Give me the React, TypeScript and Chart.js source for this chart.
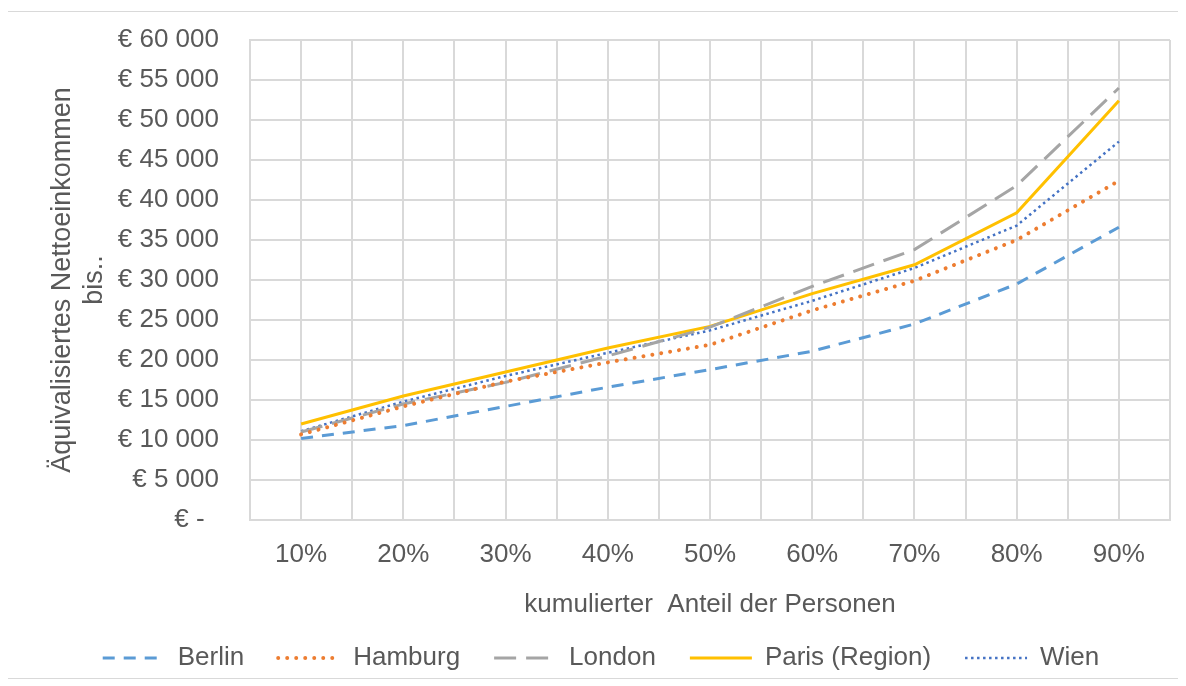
import React, { useEffect, useRef } from "react";
import { Chart, registerables } from "chart.js";

Chart.register(...registerables);

// Cumulative share of persons (deciles)
const shares = ["10%", "20%", "30%", "40%", "50%", "60%", "70%", "80%", "90%"];

// Equivalised net income (EUR) up to each decile
const berlin = [10200, 11800, 14200, 16600, 18800, 21100, 24500, 29500, 36600];
const hamburg = [10700, 14200, 17300, 19700, 21900, 26200, 29900, 35000, 42400];
const london = [11000, 14500, 17200, 20500, 24100, 29200, 33800, 41800, 54000];
const paris = [12000, 15500, 18500, 21500, 24200, 28300, 31900, 38400, 52400];
const wien = [11100, 14800, 18000, 20900, 23700, 27400, 31500, 36800, 47300];

const yTicks = [0, 5000, 10000, 15000, 20000, 25000, 30000, 35000, 40000, 45000, 50000, 55000, 60000];

const TEXT = "#595959";
const GRID = "#d9d9d9";
const FONT = "'Liberation Sans', Arial, sans-serif";

const toPoints = (values: number[]) => values.map((y, i) => ({ x: i + 1, y }));

const euro = (v: number) => {
  if (v === 0) return "€ -  ";
  const thousands = Math.floor(v / 1000);
  return `€ ${thousands} 000`;
};

export default function App() {
  const canvasRef = useRef<HTMLCanvasElement | null>(null);

  useEffect(() => {
    const canvas = canvasRef.current;
    if (!canvas) return;

    const chart = new Chart(canvas, {
      type: "line",
      data: {
        datasets: [
          {
            label: "Berlin",
            data: toPoints(berlin),
            borderColor: "#5B9BD5",
            backgroundColor: "#5B9BD5",
            borderWidth: 3,
            borderDash: [12, 9],
          },
          {
            label: "Hamburg",
            data: toPoints(hamburg),
            borderColor: "#ED7D31",
            backgroundColor: "#ED7D31",
            borderWidth: 4,
            borderDash: [0.01, 9],
            borderCapStyle: "round",
          },
          {
            label: "London",
            data: toPoints(london),
            borderColor: "#A5A5A5",
            backgroundColor: "#A5A5A5",
            borderWidth: 3,
            borderDash: [22, 10],
          },
          {
            label: "Paris (Region)",
            data: toPoints(paris),
            borderColor: "#FFC000",
            backgroundColor: "#FFC000",
            borderWidth: 3,
          },
          {
            label: "Wien",
            data: toPoints(wien),
            borderColor: "#4472C4",
            backgroundColor: "#4472C4",
            borderWidth: 2.5,
            borderDash: [2.5, 3.5],
          },
        ],
      },
      options: {
        responsive: false,
        animation: false,
        events: [],
        layout: { padding: { left: 24, right: 8, top: 28, bottom: 0 } },
        elements: {
          point: { radius: 0, hoverRadius: 0 },
          line: { tension: 0 },
        },
        scales: {
          x: {
            type: "linear",
            min: 0.5,
            max: 9.5,
            afterBuildTicks: (scale: any) => {
              const ticks = [];
              for (let i = 0; i <= shares.length * 2; i++) ticks.push({ value: 0.5 + i * 0.5 });
              scale.ticks = ticks;
            },
            afterFit: (scale: any) => {
              scale.height = 91;
              scale.paddingLeft = 0;
              scale.paddingRight = 0;
            },
            ticks: {
              autoSkip: false,
              maxRotation: 0,
              padding: 19,
              color: TEXT,
              font: { family: FONT, size: 26 },
              callback: (value: any) => {
                const v = Number(value);
                return Number.isInteger(v) ? shares[v - 1] : "";
              },
            },
            grid: { color: GRID, lineWidth: 2, drawTicks: false },
            border: { color: GRID, width: 2 },
            title: {
              display: true,
              text: "kumulierter  Anteil der Personen",
              color: TEXT,
              font: { family: FONT, size: 26 },
              padding: { top: 0, bottom: -9 },
            },
          },
          y: {
            min: 0,
            max: 60000,
            afterBuildTicks: (scale: any) => {
              scale.ticks = yTicks.map((value) => ({ value }));
            },
            afterFit: (scale: any) => {
              scale.width = 218;
              scale.paddingTop = 0;
              scale.paddingBottom = 0;
            },
            ticks: {
              padding: 31,
              color: TEXT,
              font: { family: FONT, size: 26 },
              callback: (value: any) => euro(Number(value)),
            },
            grid: { color: GRID, lineWidth: 2, drawTicks: false },
            border: { color: GRID, width: 2 },
            title: {
              display: true,
              text: ["Äquivalisiertes Nettoeinkommen", "bis.."],
              color: TEXT,
              font: { family: FONT, size: 27, lineHeight: 1.2 },
              padding: { top: 14, bottom: 0 },
            },
          },
        },
        plugins: {
          legend: {
            position: "bottom",
            labels: {
              usePointStyle: true,
              pointStyle: "line",
              pointStyleWidth: 62,
              padding: 34,
              color: TEXT,
              font: { family: FONT, size: 26 },
              generateLabels: (c: any) => {
                const items = Chart.defaults.plugins.legend.labels.generateLabels(c);
                return items.map((item: any) => {
                  const ds = c.data.datasets[item.datasetIndex];
                  return {
                    ...item,
                    strokeStyle: ds.borderColor,
                    fillStyle: ds.borderColor,
                    lineWidth: ds.borderWidth,
                    lineDash: ds.borderDash || [],
                    lineCap: ds.borderCapStyle || "butt",
                    pointStyle: "line",
                  };
                });
              },
            },
          },
          tooltip: { enabled: false },
        },
      },
    } as any);

    return () => chart.destroy();
  }, []);

  return (
    <div
      style={{
        marginTop: 3,
        marginLeft: -1,
        width: 1170,
        height: 666,
        border: "1px solid #d9d9d9",
        background: "#fff",
        overflow: "hidden",
      }}
    >
      <canvas ref={canvasRef} width={1170} height={669} style={{ display: "block" }} />
    </div>
  );
}
